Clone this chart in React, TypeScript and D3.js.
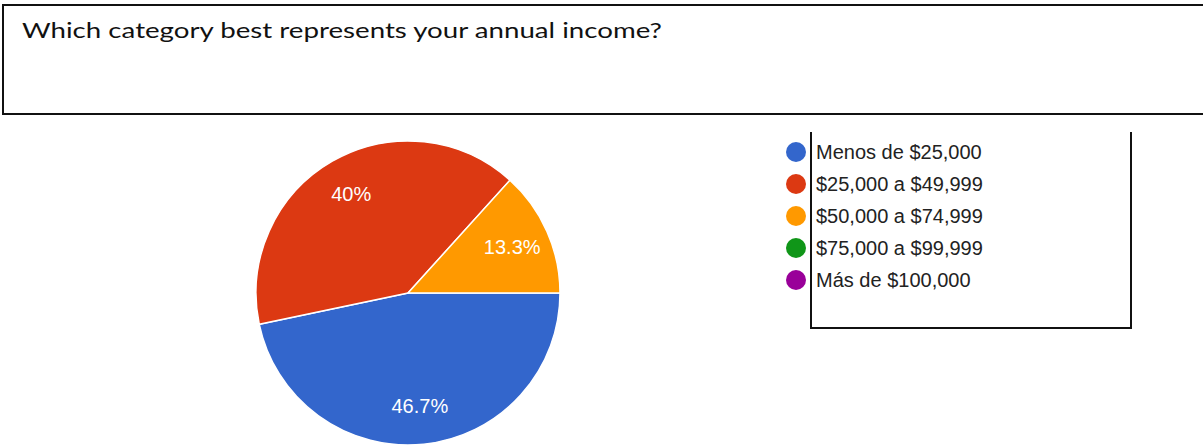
import React from "react";
import * as d3 from "d3";

const TITLE = "Which category best represents your annual income?";
const categories = [
  "Menos de $25,000",
  "$25,000 a $49,999",
  "$50,000 a $74,999",
  "$75,000 a $99,999",
  "Más de $100,000",
];
const values = [46.7, 40, 13.3, 0, 0];
const percentLabels = ["46.7%", "40%", "13.3%", "", ""];
const colors = ["#3366cc", "#dc3912", "#ff9900", "#109618", "#990099"];

const W = 1203;
const H = 445;

export default function App() {
  const cx = 408;
  const cy = 293;
  const r = 152;
  const pie = d3
    .pie<number>()
    .sort(null)
    .startAngle(Math.PI / 2)
    .endAngle(Math.PI / 2 + 2 * Math.PI)
    .value((d) => d);
  const arcs = pie(values);
  const arc = d3.arc<d3.PieArcDatum<number>>().innerRadius(0).outerRadius(r);
  const labelArc = d3
    .arc<d3.PieArcDatum<number>>()
    .innerRadius(r * 0.75)
    .outerRadius(r * 0.75);

  const legendX = 796;
  const legendY0 = 152;
  const legendStep = 32;

  return (
    <svg
      width={W}
      height={H}
      style={{ position: "absolute", left: 0, top: 0, background: "#fff" }}
    >
      <rect x={0} y={0} width={W} height={H} fill="#fff" />
      {/* title box */}
      <rect
        x={3}
        y={5}
        width={W + 10}
        height={109}
        fill="#fff"
        stroke="#111"
        strokeWidth={2}
      />
      <text
        x={22}
        y={38}
        fontFamily="'Century Gothic', Lato, 'Open Sans', sans-serif"
        fontSize={21}
        fill="#111"
        textLength={640}
        lengthAdjust="spacingAndGlyphs"
      >
        {TITLE}
      </text>

      {/* pie */}
      <g transform={`translate(${cx},${cy})`}>
        {arcs.map((a, i) =>
          a.value > 0 ? (
            <path
              key={i}
              d={arc(a) as string}
              fill={colors[i]}
              stroke="#fff"
              strokeWidth={1.5}
            />
          ) : null
        )}
        {arcs.map((a, i) => {
          if (a.value <= 0) return null;
          const [lx, ly] = labelArc.centroid(a);
          return (
            <text
              key={"l" + i}
              x={lx}
              y={ly}
              dy="0.35em"
              textAnchor="middle"
              fontFamily="Arial, 'Liberation Sans', sans-serif"
              fontSize={20}
              fill="#fff"
            >
              {percentLabels[i]}
            </text>
          );
        })}
      </g>

      {/* legend box (no top edge) */}
      <path
        d="M811,132 L811,328 L1131,328 L1131,132"
        fill="none"
        stroke="#111"
        strokeWidth={2}
      />
      {categories.map((c, i) => (
        <g key={c} transform={`translate(${legendX},${legendY0 + i * legendStep})`}>
          <circle r={10} fill={colors[i]} />
          <text
            x={20}
            y={0}
            dy="0.35em"
            fontFamily="Arial, 'Liberation Sans', sans-serif"
            fontSize={20}
            fill="#222"
          >
            {c}
          </text>
        </g>
      ))}
    </svg>
  );
}
